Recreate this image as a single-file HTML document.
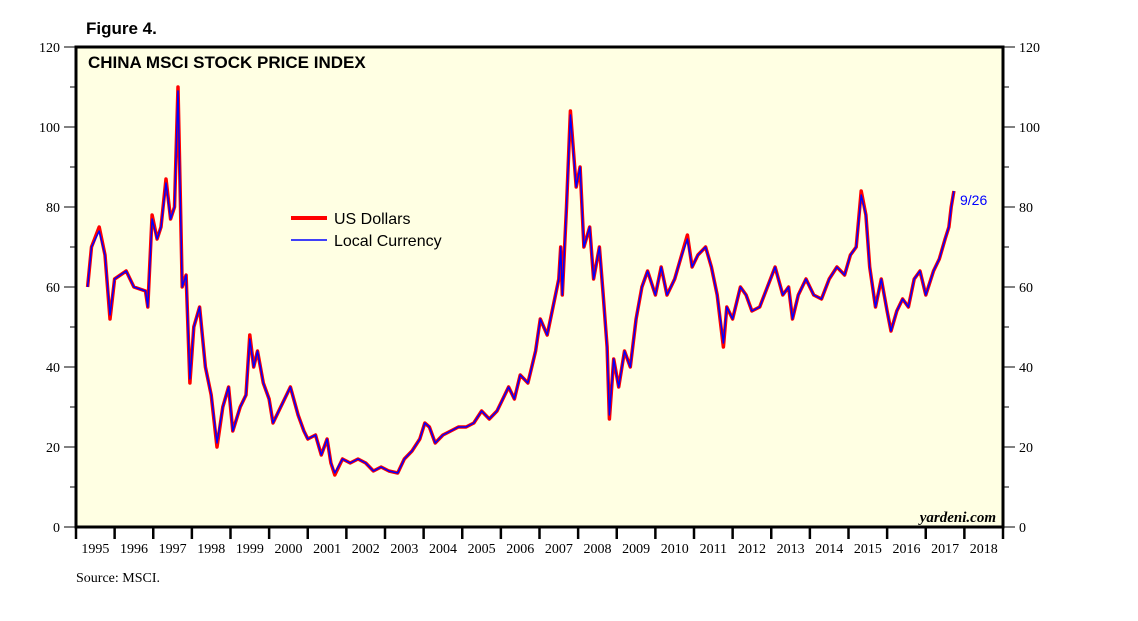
<!DOCTYPE html>
<html><head><meta charset="utf-8"><style>
body{margin:0;background:#fff;}
svg{display:block;font-family:"Liberation Serif",serif;}
</style></head><body>
<svg id="chart" width="1138" height="621" viewBox="0 0 1138 621">
<text x="86" y="34" font-family="Liberation Sans" font-weight="bold" font-size="17">Figure 4.</text>
<rect x="76" y="47" width="927" height="480" fill="#ffffe3"/>
<g id="axes"></g>
<g id="series"></g>
<rect x="76" y="47" width="927" height="480" fill="none" stroke="#000" stroke-width="3"/>
<text x="88" y="68" font-family="Liberation Sans" font-weight="bold" font-size="17">CHINA MSCI STOCK PRICE INDEX</text>
<g>
<line x1="291" y1="218" x2="327" y2="218" stroke="#f00" stroke-width="4"/>
<text x="334" y="224" font-family="Liberation Sans" font-size="16">US Dollars</text>
<line x1="291" y1="240" x2="327" y2="240" stroke="#00f" stroke-width="1.5"/>
<text x="334" y="246" font-family="Liberation Sans" font-size="16">Local Currency</text>
</g>
<text x="960" y="205" font-family="Liberation Sans" font-size="14" fill="#00f">9/26</text>
<text x="996" y="522" text-anchor="end" font-style="italic" font-weight="bold" font-size="15">yardeni.com</text>
<text x="76" y="582" font-size="14">Source: MSCI.</text>
</svg>
<script>
const years=[1995,1996,1997,1998,1999,2000,2001,2002,2003,2004,2005,2006,2007,2008,2009,2010,2011,2012,2013,2014,2015,2016,2017,2018];
const yTicks=[0,20,40,60,80,100,120];
const dates=[1995.3,1995.4,1995.6,1995.75,1995.88,1996.0,1996.3,1996.5,1996.8,1996.86,1996.97,1997.1,1997.2,1997.33,1997.45,1997.55,1997.64,1997.75,1997.85,1997.95,1998.05,1998.2,1998.35,1998.5,1998.65,1998.8,1998.95,1999.06,1999.25,1999.4,1999.5,1999.6,1999.7,1999.85,2000.0,2000.1,2000.3,2000.55,2000.75,2000.9,2001.0,2001.2,2001.35,2001.5,2001.6,2001.7,2001.9,2002.1,2002.3,2002.5,2002.7,2002.9,2003.1,2003.33,2003.5,2003.7,2003.9,2004.03,2004.15,2004.3,2004.5,2004.7,2004.9,2005.1,2005.3,2005.5,2005.7,2005.9,2006.0,2006.2,2006.35,2006.5,2006.7,2006.9,2007.02,2007.2,2007.35,2007.5,2007.55,2007.59,2007.7,2007.8,2007.95,2008.05,2008.15,2008.3,2008.4,2008.55,2008.65,2008.75,2008.81,2008.92,2009.05,2009.2,2009.35,2009.5,2009.65,2009.8,2010.0,2010.15,2010.3,2010.5,2010.65,2010.83,2010.95,2011.1,2011.3,2011.45,2011.6,2011.76,2011.85,2012.0,2012.2,2012.35,2012.5,2012.7,2012.9,2013.1,2013.3,2013.45,2013.55,2013.7,2013.9,2014.1,2014.3,2014.5,2014.7,2014.9,2015.05,2015.2,2015.33,2015.45,2015.55,2015.7,2015.85,2016.0,2016.1,2016.25,2016.4,2016.55,2016.7,2016.85,2017.0,2017.2,2017.35,2017.5,2017.6,2017.66,2017.73];
const usdValues=[60,70,75,68,52,62,64,60,59,55,78,72,75,87,77,80,110,60,63,36,50,55,40,33,20,30,35,24,30,33,48,40,44,36,32,26,30,35,28,24,22,23,18,22,16,13,17,16,17,16,14,15,14,13.5,17,19,22,26,25,21,23,24,25,25,26,29,27,29,31,35,32,38,36,44,52,48,55,62,70,58,80,104,85,90,70,75,62,70,58,45,27,42,35,44,40,52,60,64,58,65,58,62,67,73,65,68,70,65,58,45,55,52,60,58,54,55,60,65,58,60,52,58,62,58,57,62,65,63,68,70,84,78,65,55,62,54,49,54,57,55,62,64,58,64,67,72,75,80,84];
const localValues=[60,70,74,68,53,62,64,60,59,55,77,72,75,86,77,80,109,60,63,37,50,55,40,33,21,30,35,24,30,33,47,40,44,36,32,26,30,35,28,24,22,23,18,22,16,13.5,17,16,17,16,14,15,14,13.5,17,19,22,26,25,21,23,24,25,25,26,29,27,29,31,35,32,38,36,44,52,48,55,62,70,58,80,103,85,90,70,75,62,70,58,45,28,42,35,44,40,52,60,64,58,65,58,62,67,72,65,68,70,65,58,46,55,52,60,58,54,55,60,65,58,60,52,58,62,58,57,62,65,63,68,70,83,78,65,55,62,54,49,54,57,55,62,64,58,64,67,72,75,80,84];
const NS='http://www.w3.org/2000/svg';
const x0=76,x1=1003,y0=527,y1=47,yMax=120;
const xs=d=>x0+(d-1995)/24*(x1-x0);
const ys=v=>y0-v/yMax*(y0-y1);
const ax=document.getElementById('axes');
function mk(tag,attrs,parent){const e=document.createElementNS(NS,tag);for(const k in attrs)e.setAttribute(k,attrs[k]);parent.appendChild(e);return e;}
for(let v=0;v<=120;v+=10){
  const major=v%20===0;
  const t1=mk('line',{x1:major?64:70,x2:x0,y1:ys(v),y2:ys(v),stroke:'#000','stroke-width':1},ax);
  
  
  const t2=mk('line',{x1:x1,x2:major?1015:1009,y1:ys(v),y2:ys(v),stroke:'#000','stroke-width':1},ax);
  
  
}
yTicks.forEach(v=>{
  const l=mk('text',{x:60,y:ys(v)+5,'text-anchor':'end','font-size':14},ax);l.textContent=v;
  
  
  const r=mk('text',{x:1019,y:ys(v)+5,'font-size':14},ax);r.textContent=v;
  
  
});
years.forEach(yr=>{
  const t=mk('line',{x1:xs(yr),x2:xs(yr),y1:y0,y2:y0+12,stroke:'#000','stroke-width':2.5},ax);
  
  
  const l=mk('text',{x:xs(yr+0.5),y:y0+26,'text-anchor':'middle','font-size':14},ax);l.textContent=yr;
  
  
});
const tk=mk('line',{x1:x1,x2:x1,y1:y0,y2:y0+12,stroke:'#000','stroke-width':2.5},ax);


const sg=document.getElementById('series');
const pts=a=>a.map((v,i)=>xs(dates[i]).toFixed(1)+','+ys(v).toFixed(1)).join(' ');
const red=mk('polyline',{points:pts(usdValues),fill:'none',stroke:'#f00','stroke-width':3.5,'stroke-linejoin':'round'},sg);


const blue=mk('polyline',{points:pts(localValues),fill:'none',stroke:'#00f','stroke-width':1.5,'stroke-linejoin':'round'},sg);


</script>
</body></html>
